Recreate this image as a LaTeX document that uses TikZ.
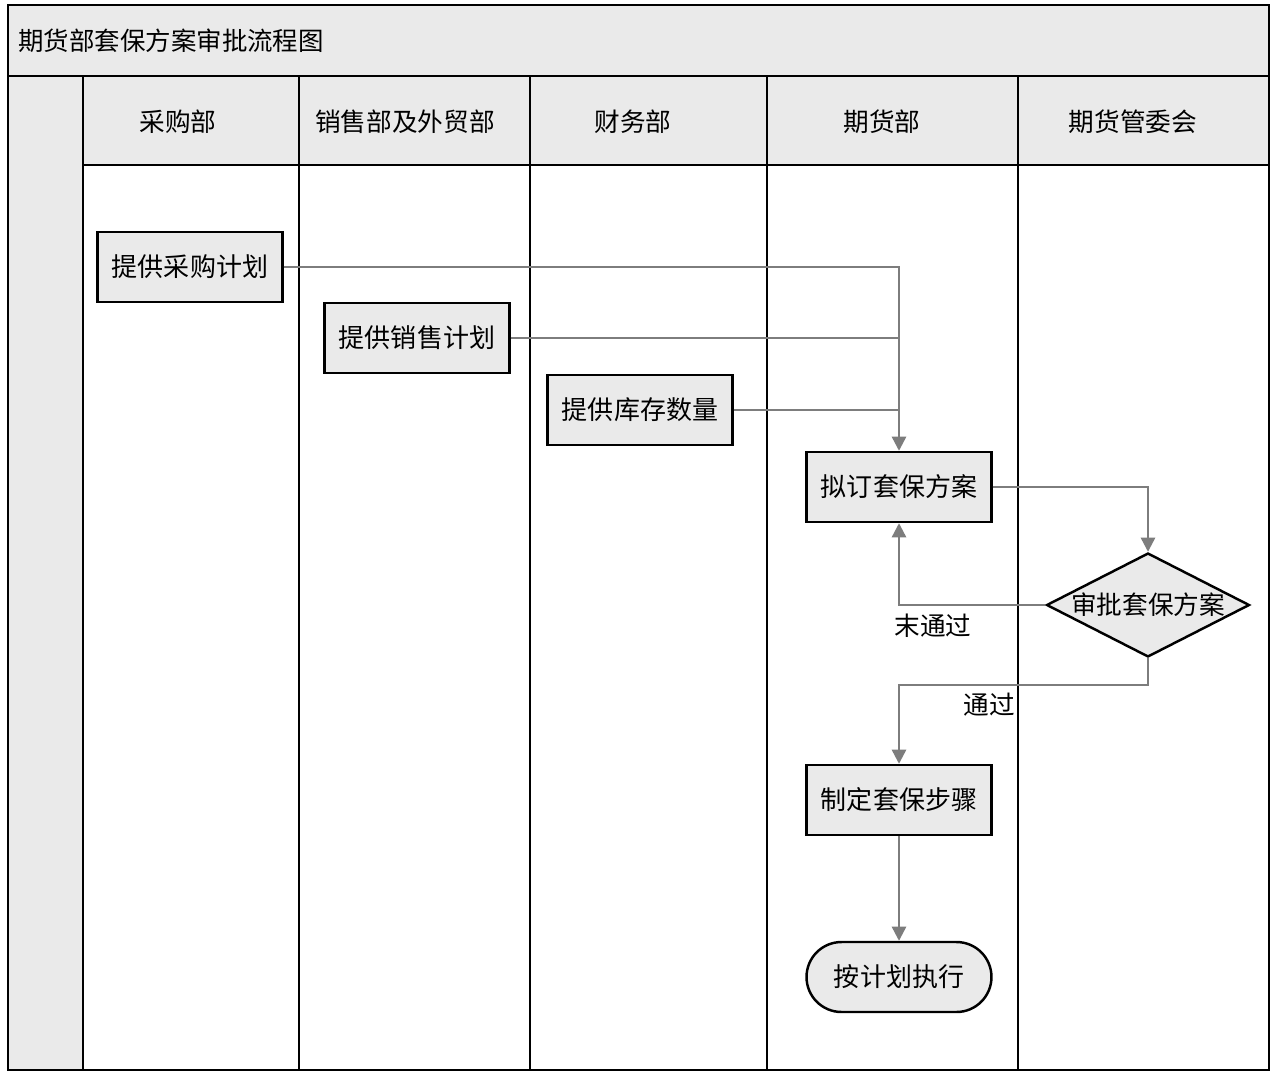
\documentclass[tikz,border=0pt]{standalone}
\usepackage{fontspec}
\usepackage{tikz}
\usetikzlibrary{shapes.geometric,arrows.meta}
\newfontfamily\cjk{Noto Sans CJK SC}
\definecolor{black}{RGB}{0,0,0}
\definecolor{white}{RGB}{255,255,255}
\definecolor{light_gray}{RGB}{234,234,234}
\definecolor{line_gray}{RGB}{125,125,125}
\tikzset{
	task/.style={rectangle,draw=black,fill=light_gray,line width=1.4pt,minimum width=3.7cm,minimum height=1.4cm,inner sep=0pt,font=\cjk\fontsize{14.8}{17}\selectfont},
	head/.style={font=\cjk\fontsize{14.6}{17}\selectfont},
	flow/.style={draw=line_gray,line width=1.3pt,-{Triangle[length=8pt,width=8pt]}},
	plain/.style={draw=line_gray,line width=1.3pt}
}

\begin{document}
\begin{tikzpicture}[x=0.02cm,y=-0.02cm]
	\useasboundingbox (0,0) rectangle (1279,1086);
	% frame and lanes
	\fill[light_gray] (8,5) rectangle (1269,165);
	\fill[light_gray] (8,76) rectangle (83,1070);
	\fill[white] (83,165) rectangle (1269,1070);
	\foreach \x in {83,299,530,767,1018}
		\draw[black,line width=1pt] (\x,76) -- (\x,1070);
	\draw[black,line width=1pt] (8,76) -- (1269,76);
	\draw[black,line width=1pt] (83,165) -- (1269,165);
	\draw[black,line width=1.4pt] (8,5) rectangle (1269,1070);

	\node[anchor=west,font=\cjk\fontsize{14.5}{17}\selectfont] (title) at (12,41) {期货部套保方案审批流程图};
	\node[head] (buy) at (178,122) {采购部};
	\node[head] (sale) at (405,122) {销售部及外贸部};
	\node[head] (fin) at (633,122) {财务部};
	\node[head] (fut) at (882,122) {期货部};
	\node[head] (board) at (1133,122) {期货管委会};

	% steps
	\node[task] (plan_buy) at (190,267) {提供采购计划};
	\node[task] (plan_sale) at (417,338) {提供销售计划};
	\node[task] (stock) at (640,410) {提供库存数量};
	\node[task] (draft) at (899,487) {拟订套保方案};
	\node[diamond,draw=black,fill=light_gray,line width=1.4pt,minimum width=4.06cm,minimum height=2.08cm,inner sep=0pt,shape aspect=2,font=\cjk\fontsize{14.6}{17}\selectfont] (approve) at (1148,605) {审批套保方案};
	\node[task] (steps) at (899,800) {制定套保步骤};
	\node[task,rounded corners=0.7cm] (run) at (899,977) {按计划执行};

	% connectors
	\draw[flow] (plan_buy.east) -| (draft.north);
	\draw[plain] (plan_sale.east) -- (plan_sale.east -| draft.north);
	\draw[plain] (stock.east) -- (stock.east -| draft.north);
	\draw[flow] (draft.east) -| (approve.north);
	\draw[flow] (approve.west) -| (draft.south);
	\coordinate (bend) at (1148,685);
	\draw[flow] (approve.south) -- (bend) -| (steps.north);
	\draw[flow] (steps.south) -- (run.north);

	\node[head] (fail) at (933,626) {末通过};
	\node[head] (pass) at (989,705) {通过};
\end{tikzpicture}
\end{document}
